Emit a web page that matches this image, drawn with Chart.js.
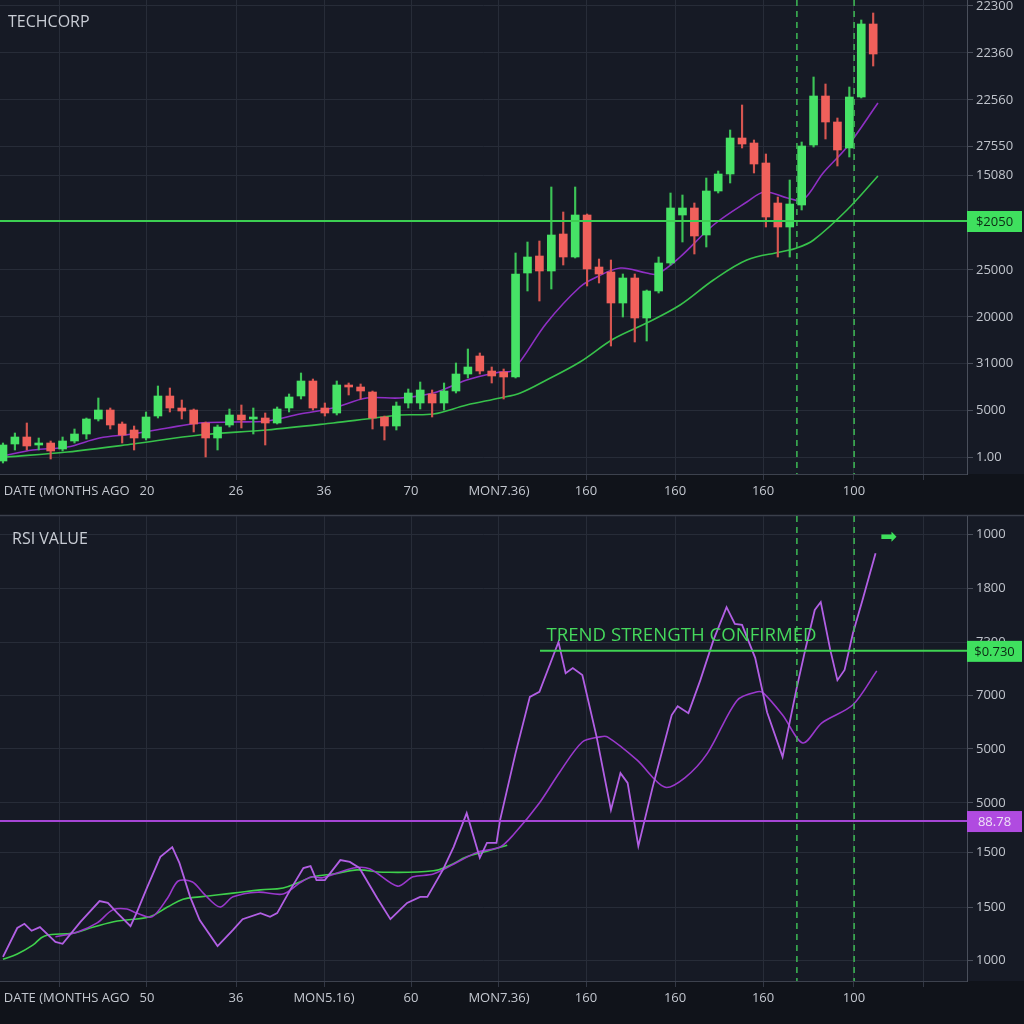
<!DOCTYPE html>
<html>
<head>
<meta charset="utf-8">
<title>TechCorp</title>
<script src="https://cdn.jsdelivr.net/npm/chart.js@4.4.1/dist/chart.umd.min.js"></script>
<style>
  html, body { margin: 0; padding: 0; background: #10131a; overflow: hidden; }
  .panel { position: absolute; left: 0; width: 1024px; }
  #topPanel { top: 0; height: 513px; }
  #rsiPanel { top: 513px; height: 511px; }
</style>
</head>
<body>
<div class="panel" id="topPanel"><canvas id="priceChart"></canvas></div>
<div class="panel" id="rsiPanel"><canvas id="rsiChart"></canvas></div>
<script>
// --- DATA ---

// candles (one per period, index = position on the time axis)
const candleOpen  = [6.5, 15, 18.5, 14.5, 15.5, 12.5, 16.5, 20, 27.5, 32, 25, 22, 18, 29, 39, 33, 32, 25.5, 18, 24.5,
                     29.5, 27.5, 28, 25.5, 33, 39, 46.5, 33, 30.5, 44.5, 43.5, 41, 28.5, 24, 35.5, 35.5, 40, 35.5, 41.5, 50,
                     59, 51.5, 51, 48.5, 100.5, 109, 101.5, 120, 108.5, 129.5, 103.5, 101, 85.5, 98, 78, 91.5, 105.5, 129.5, 133, 119.5,
                     141.5, 150, 168, 165.5, 155.5, 135.5, 123.5, 134.5, 164.5, 189, 176, 163, 188.5, 225];
const candleHigh  = [15.5, 20.5, 25.5, 18, 16.5, 18.5, 22.5, 28, 38, 33, 26, 24, 31, 44, 43, 37, 32.5, 26, 24.5, 32.5,
                     34.5, 33, 30.5, 33.5, 40, 50.5, 47.5, 35.5, 46.5, 45.5, 45, 41.5, 29, 36, 42.5, 46, 42, 45.5, 55.5, 62.5,
                     60.5, 53.5, 52.5, 110.5, 116, 116.5, 143.5, 131, 143.5, 130, 107.5, 107, 100, 100, 92, 108.5, 140.5, 139.5, 135.5, 148,
                     151.5, 172, 184.5, 167, 160, 138.5, 147, 166, 198.5, 195, 178, 193.5, 227, 230.5];
const candleLow   = [5.5, 12, 12, 12, 7.5, 11.5, 15.5, 17.5, 26.5, 22.5, 15.5, 12, 17, 28, 31, 27.5, 21, 8.5, 12, 23.5,
                     23, 20, 14.5, 25, 31, 37.5, 32, 29, 29.5, 39.5, 37.5, 22.5, 17, 22, 33, 32.5, 28.5, 32, 40.5, 48,
                     50, 45.5, 37.5, 48, 91.5, 86.5, 92.5, 104.5, 108, 94, 95.5, 64, 78.5, 66, 66.5, 90.5, 104.5, 116, 110, 113.5,
                     140.5, 145.5, 163, 150.5, 123.5, 108.5, 108.5, 132, 163.5, 167.5, 154, 158.5, 188, 204];
const candleClose = [14.5, 18.5, 14, 15.5, 11.5, 16.5, 20, 27.5, 32, 24.5, 19.5, 18, 28.5, 39, 33, 31.5, 25, 18, 23.5, 29.5,
                     27, 28.5, 25.5, 32.5, 38.5, 46.5, 33, 30.5, 44.5, 43.5, 41.5, 28, 24, 34, 40.5, 42, 35.5, 41.5, 50, 53.5,
                     51.5, 49, 48.5, 100, 108.5, 101.5, 119.5, 108.5, 129.5, 102.5, 100, 85.5, 98, 78, 91.5, 105.5, 133, 133, 119, 141.5,
                     150, 168, 165, 155, 128.5, 123.5, 135, 164, 189, 176, 162, 188.5, 225, 210];

// moving averages (period index, value)
const fastMaIdx = [0, 2.5, 5.4, 8.1, 10.9, 13.8, 16.5, 19.3, 22.1, 24.9, 27.7, 30.5, 33.3, 36.1, 38.9, 41.7, 42.8, 45.6,
                   48.4, 49.8, 51.8, 54, 54.9, 56.8, 59.6, 62.4, 63.9, 65.8, 67.1, 68.8, 70.8, 73.4];
const fastMaVal = [9, 12, 13.5, 18, 20, 23, 25.5, 26, 26.5, 30, 33, 38, 38, 40.5, 47, 51, 52, 75.5,
                   93.5, 98.5, 103, 100.5, 100, 108.5, 124.5, 136, 141, 138, 137, 150.5, 163.5, 185.5];
const slowMaIdx = [0.3, 5.4, 10.9, 16.5, 22.1, 27.7, 30.5, 33.3, 36.1, 38.9, 41.7, 43.4, 45.6, 48.4, 51.2, 54, 56.8,
                   59.6, 62.4, 65.2, 66.6, 68, 70.8, 73.4];
const slowMaVal = [8.5, 11, 15, 19.5, 22, 25.5, 27.5, 29.5, 30, 34.5, 38, 40.5, 47, 56, 67.5, 75.5, 84.5,
                   97, 107, 111, 113, 117, 132, 149];

// RSI panel
const rsiIdx = [0, 1.2, 1.8, 2.4, 3.1, 4.4, 5.0, 6.5, 8.1, 8.8, 9.6, 10.7, 11.2, 12.1, 13.2, 14.2, 14.8, 15.7, 16.5, 18.0,
                19.3, 20.1, 21.6, 22.4, 23.0, 24.1, 25.2, 25.8, 26.3, 27.0, 28.3, 29.1, 29.9, 31.4, 32.5, 33.9, 35.0, 35.6, 36.9, 37.8,
                38.9, 40.0, 40.6, 41.4, 41.7, 43.0, 44.2, 45.0, 46.6, 47.2, 47.8, 48.6, 49.8, 51.0, 51.8, 52.4, 53.3, 54.5, 56.1, 56.6,
                57.5, 58.5, 59.6, 60.7, 61.4, 62.0, 63.1, 64.1, 65.4, 66.6, 67.3, 68.1, 68.6, 69.4, 70.0, 70.6, 71.3, 72.1, 73.2];
const rsiVal = [5.2, 11.4, 12.3, 10.8, 11.6, 8.4, 8.0, 12.7, 17.2, 16.8, 14.6, 11.8, 14.6, 20.2, 26.7, 28.8, 25.4, 18.1, 13.1, 7.5,
                11.0, 13.3, 14.6, 13.8, 14.6, 19.6, 24.3, 24.7, 21.7, 21.7, 26.0, 25.6, 24.3, 17.8, 13.3, 16.8, 18.1, 18.1, 23.9, 28.8,
                36.1, 26.5, 29.7, 29.7, 34.6, 49.0, 61.1, 62.2, 72.9, 66.2, 67.3, 65.8, 52.5, 36.8, 44.7, 42.6, 29.0, 41.7, 57.2, 59.1,
                57.6, 64.7, 73.3, 80.4, 76.8, 76.6, 69.5, 57.8, 48.2, 63.2, 71.2, 79.8, 81.5, 71.2, 64.7, 66.9, 74.8, 81.9, 92.0];
const signalIdx = [4.4, 6.2, 7.9, 9.2, 10.4, 11.2, 12.5, 13.8, 14.7, 15.9, 16.8, 18.2, 19.3, 21.4, 23.5, 24.9, 25.9, 26.8,
                   29.4, 30.8, 33.1, 34.4, 36.1, 38.3, 39.8, 41.7, 42.8, 45.0, 46.7, 48.6, 50.1, 50.7, 53.2, 55.5, 57.2, 59.1,
                   61.6, 63.3, 63.8, 65.4, 67.1, 68.7, 71.3, 73.3];
const signalVal = [9.5, 10.5, 12.5, 15.3, 15.5, 14.6, 13.8, 17.8, 21.5, 21.3, 18.9, 15.9, 18.1, 19.1, 18.7, 21.1, 22.4, 22.2,
                   24.3, 24.1, 20.4, 22.4, 23.0, 25.8, 27.7, 28.8, 31.4, 38.3, 44.9, 51.4, 52.5, 52.5, 47.5, 41.7, 43.7, 49.0,
                   60.4, 62.2, 61.9, 57.2, 51.2, 55.5, 59.4, 66.7];
const trendIdx = [0, 1.2, 2.5, 3.5, 5.9, 7.6, 9.6, 12.3, 13.8, 15.1, 16.5, 19.3, 21.6, 23.5, 24.9, 26.0, 27.7, 29.7,
                  31.9, 36.1, 37.5, 38.9, 40.3, 42.3];
const trendVal = [4.7, 5.8, 7.7, 9.7, 10.3, 11.6, 12.9, 13.8, 15.9, 17.6, 18.1, 18.9, 19.6, 20.0, 21.3, 22.4, 23.0, 23.9,
                  23.4, 23.7, 24.9, 26.7, 27.7, 29.2];

// axes
const xTickPos = [4.78, 12.08, 19.55, 26.93, 34.23, 41.61, 48.91, 56.38, 63.76, 71.39, 77.18];
const priceXLabels = ['\u00a0\u00a0\u00a0\u00a0DATE (MONTHS AGO', '20', '26', '36', '70', 'MON7.36)', '160', '160', '160', '100', ''];
const rsiXLabels = ['\u00a0\u00a0\u00a0\u00a0DATE (MONTHS AGO', '50', '36', 'MON5.16)', '60', 'MON7.36)', '160', '160', '160', '100', ''];
const priceTickVals = [8.5, 32, 55.5, 78.5, 102, 149.5, 164, 187, 210.5, 234];
const priceTickLabels = ['1.00', '5000', '31000', '20000', '25000', '15080', '27550', '22560', '22360', '22300'];
const rsiTickVals = [4.5, 15.9, 27.7, 38.3, 49.9, 61.5, 72.9, 84.5, 96.1];
const rsiTickLabels = ['1000', '1500', '1500', '5000', '5000', '7000', '7300', '1800', '1000'];

// markers
const markerPeriods = [66.6, 71.4];
const priceLevel = 126.5, priceLevelTag = '$2050';
const rsiUpperLevel = 71.0, rsiUpperTag = '$0.730', rsiUpperFrom = 45.05;
const rsiLowerLevel = 34.4, rsiLowerTag = '88.78';

// --- STYLE ---
const UP = '#46e266', DOWN = '#f0605b';
const UP_WICK = '#3cc457', DOWN_WICK = '#d65550';
const GRID = '#272c38';
const TICK_TEXT = '#c0c4cc';
const FONT = "'Open Sans', 'Noto Sans', sans-serif";

Chart.defaults.font.family = FONT;
Chart.defaults.animation = false;

// backgrounds + annotations
const panelDecor = {
    id: 'panelDecor',
    beforeDraw(chart, args, opts) {
        const { ctx, chartArea: a, width, height } = chart;
        ctx.save();
        ctx.fillStyle = '#10131a';
        ctx.fillRect(0, 0, width, height);
        ctx.fillStyle = '#161a25';
        ctx.fillRect(0, 0, width, a.bottom);
        if (opts.topLine) {
            ctx.fillStyle = '#10131a';
            ctx.fillRect(0, 0, width, a.top - 1);
            ctx.strokeStyle = '#3a3f4b';
            ctx.lineWidth = 1.5;
            ctx.beginPath();
            ctx.moveTo(0, a.top - 0.5);
            ctx.lineTo(width, a.top - 0.5);
            ctx.stroke();
        }
        ctx.restore();
    },
    afterDraw(chart, args, opts) {
        const { ctx, chartArea: a } = chart;
        const x = chart.scales.x, y = chart.scales.y;
        ctx.save();

        // dashed markers
        ctx.setLineDash([6, 5]);
        ctx.strokeStyle = '#3dbb55';
        ctx.lineWidth = 1.5;
        opts.dashedAt.forEach(v => {
            const px = x.getPixelForValue(v);
            ctx.beginPath();
            ctx.moveTo(px, a.top);
            ctx.lineTo(px, a.bottom);
            ctx.stroke();
        });
        ctx.setLineDash([]);

        // horizontal levels with price tags
        opts.levels.forEach(lv => {
            const py = y.getPixelForValue(lv.value);
            const x0 = lv.from == null ? a.left : x.getPixelForValue(lv.from);
            ctx.strokeStyle = lv.color;
            ctx.lineWidth = 2;
            ctx.beginPath();
            ctx.moveTo(x0, py);
            ctx.lineTo(a.right, py);
            ctx.stroke();
            ctx.fillStyle = lv.tagColor;
            ctx.fillRect(a.right, py - 10, 55, 21);
            ctx.fillStyle = lv.textColor;
            ctx.font = '13px ' + FONT;
            ctx.textAlign = 'center';
            ctx.textBaseline = 'middle';
            ctx.fillText(lv.tag, a.right + 27.5, py + 1);
        });

        // panel title
        ctx.fillStyle = '#c9cdd5';
        ctx.font = '16px ' + FONT;
        ctx.textAlign = 'left';
        ctx.textBaseline = 'middle';
        ctx.fillText(opts.title, a.left + opts.titleX, a.top + opts.titleY);

        // free text
        (opts.texts || []).forEach(t => {
            ctx.fillStyle = t.color;
            ctx.font = t.font;
            ctx.textAlign = t.align;
            ctx.textBaseline = 'middle';
            ctx.fillText(t.text, x.getPixelForValue(t.at[0]), y.getPixelForValue(t.at[1]));
        });
        ctx.restore();
    }
};

function xAxis(labels, axisHeight) {
    return {
        type: 'linear',
        min: -0.25,
        max: 80.87,
        offset: false,
        afterBuildTicks: s => { s.ticks = xTickPos.map(v => ({ value: v })); },
        afterFit: s => { s.height = axisHeight; s.paddingLeft = 0; s.paddingRight = 0; },
        ticks: {
            autoSkip: false,
            maxRotation: 0,
            padding: 3,
            color: '#c3c7cf',
            font: { size: 13 },
            callback: (v, i) => labels[i]
        },
        grid: { color: GRID, tickLength: 6, tickColor: '#323744', offset: false },
        border: { color: '#3d424e' }
    };
}

function yAxis(min, max, vals, labels) {
    return {
        type: 'linear',
        position: 'right',
        min: min,
        max: max,
        afterBuildTicks: s => { s.ticks = vals.map(v => ({ value: v })); },
        afterFit: s => { s.width = 57; s.paddingTop = 0; s.paddingBottom = 0; },
        ticks: {
            autoSkip: false,
            padding: 3,
            color: TICK_TEXT,
            font: { size: 13 },
            callback: (v, i) => labels[i]
        },
        grid: { color: GRID, tickLength: 6, tickColor: '#4a4f5b' },
        border: { color: '#4a4f5b' }
    };
}

function points(xs, ys) {
    return xs.map((v, i) => ({ x: v, y: ys[i] }));
}

// 1. Price chart (candles + moving averages)
const bodyData = candleOpen.map((op, i) => ({ x: i, y: [op, candleClose[i]] }));
const wickData = candleLow.map((lo, i) => ({ x: i, y: [lo, candleHigh[i]] }));
const isUp = candleOpen.map((op, i) => candleClose[i] >= op);

new Chart(document.getElementById('priceChart'), {
    type: 'bar',
    data: {
        datasets: [{
            label: 'Body',
            data: bodyData,
            backgroundColor: isUp.map(u => u ? UP : DOWN),
            barThickness: 8,
            grouped: false,
            order: 0
        }, {
            label: 'Wick',
            data: wickData,
            backgroundColor: isUp.map(u => u ? UP_WICK : DOWN_WICK),
            barThickness: 1.5,
            grouped: false,
            order: 1
        }, {
            type: 'line',
            label: 'MA fast',
            data: points(fastMaIdx, fastMaVal),
            borderColor: '#8f2fc4',
            borderWidth: 1.6,
            pointRadius: 0,
            tension: 0.35,
            order: 2
        }, {
            type: 'line',
            label: 'MA slow',
            data: points(slowMaIdx, slowMaVal),
            borderColor: '#37c24b',
            borderWidth: 1.6,
            pointRadius: 0,
            tension: 0.35,
            order: 3
        }]
    },
    options: {
        responsive: true,
        maintainAspectRatio: false,
        layout: { padding: 0 },
        plugins: {
            legend: { display: false },
            tooltip: { enabled: false },
            panelDecor: {
                title: 'TECHCORP', titleX: 8, titleY: 22,
                dashedAt: markerPeriods,
                levels: [{ value: priceLevel, tag: priceLevelTag, color: '#3ccf52', tagColor: '#3fe05e', textColor: '#0c2a14' }]
            }
        },
        scales: {
            x: xAxis(priceXLabels, 39),
            y: yAxis(0, 237, priceTickVals, priceTickLabels)
        }
    },
    plugins: [panelDecor]
});

// 2. RSI chart
new Chart(document.getElementById('rsiChart'), {
    type: 'line',
    data: {
        datasets: [{
            label: 'RSI',
            data: points(rsiIdx, rsiVal),
            borderColor: '#b25fe4',
            borderWidth: 1.8,
            pointRadius: 0,
            tension: 0
        }, {
            label: 'Signal',
            data: points(signalIdx, signalVal),
            borderColor: '#9a38cc',
            borderWidth: 1.6,
            pointRadius: 0,
            tension: 0.3
        }, {
            label: 'Trend',
            data: points(trendIdx, trendVal),
            borderColor: '#3fd04c',
            borderWidth: 1.6,
            pointRadius: 0,
            tension: 0.4
        }]
    },
    options: {
        responsive: true,
        maintainAspectRatio: false,
        layout: { padding: { top: 3 } },
        plugins: {
            legend: { display: false },
            tooltip: { enabled: false },
            panelDecor: {
                topLine: true,
                title: 'RSI VALUE', titleX: 12, titleY: 23,
                dashedAt: markerPeriods,
                levels: [
                    { value: rsiUpperLevel, from: rsiUpperFrom, tag: rsiUpperTag, color: '#3fd352', tagColor: '#3fe05e', textColor: '#0c2a14' },
                    { value: rsiLowerLevel, tag: rsiLowerTag, color: '#a646d6', tagColor: '#b04be0', textColor: '#efe2f6' }
                ],
                texts: [
                    { text: 'TREND STRENGTH CONFIRMED', at: [45.6, 74.2], align: 'left', color: '#45d85c', font: '18.6px ' + FONT },
                    { text: '\u27A1', at: [74.3, 95.3], align: 'center', color: '#3ee05c', font: '20px "DejaVu Sans"' }
                ]
            }
        },
        scales: {
            x: xAxis(rsiXLabels, 43),
            y: yAxis(0, 100, rsiTickVals, rsiTickLabels)
        }
    },
    plugins: [panelDecor]
});
</script>
</body>
</html>
